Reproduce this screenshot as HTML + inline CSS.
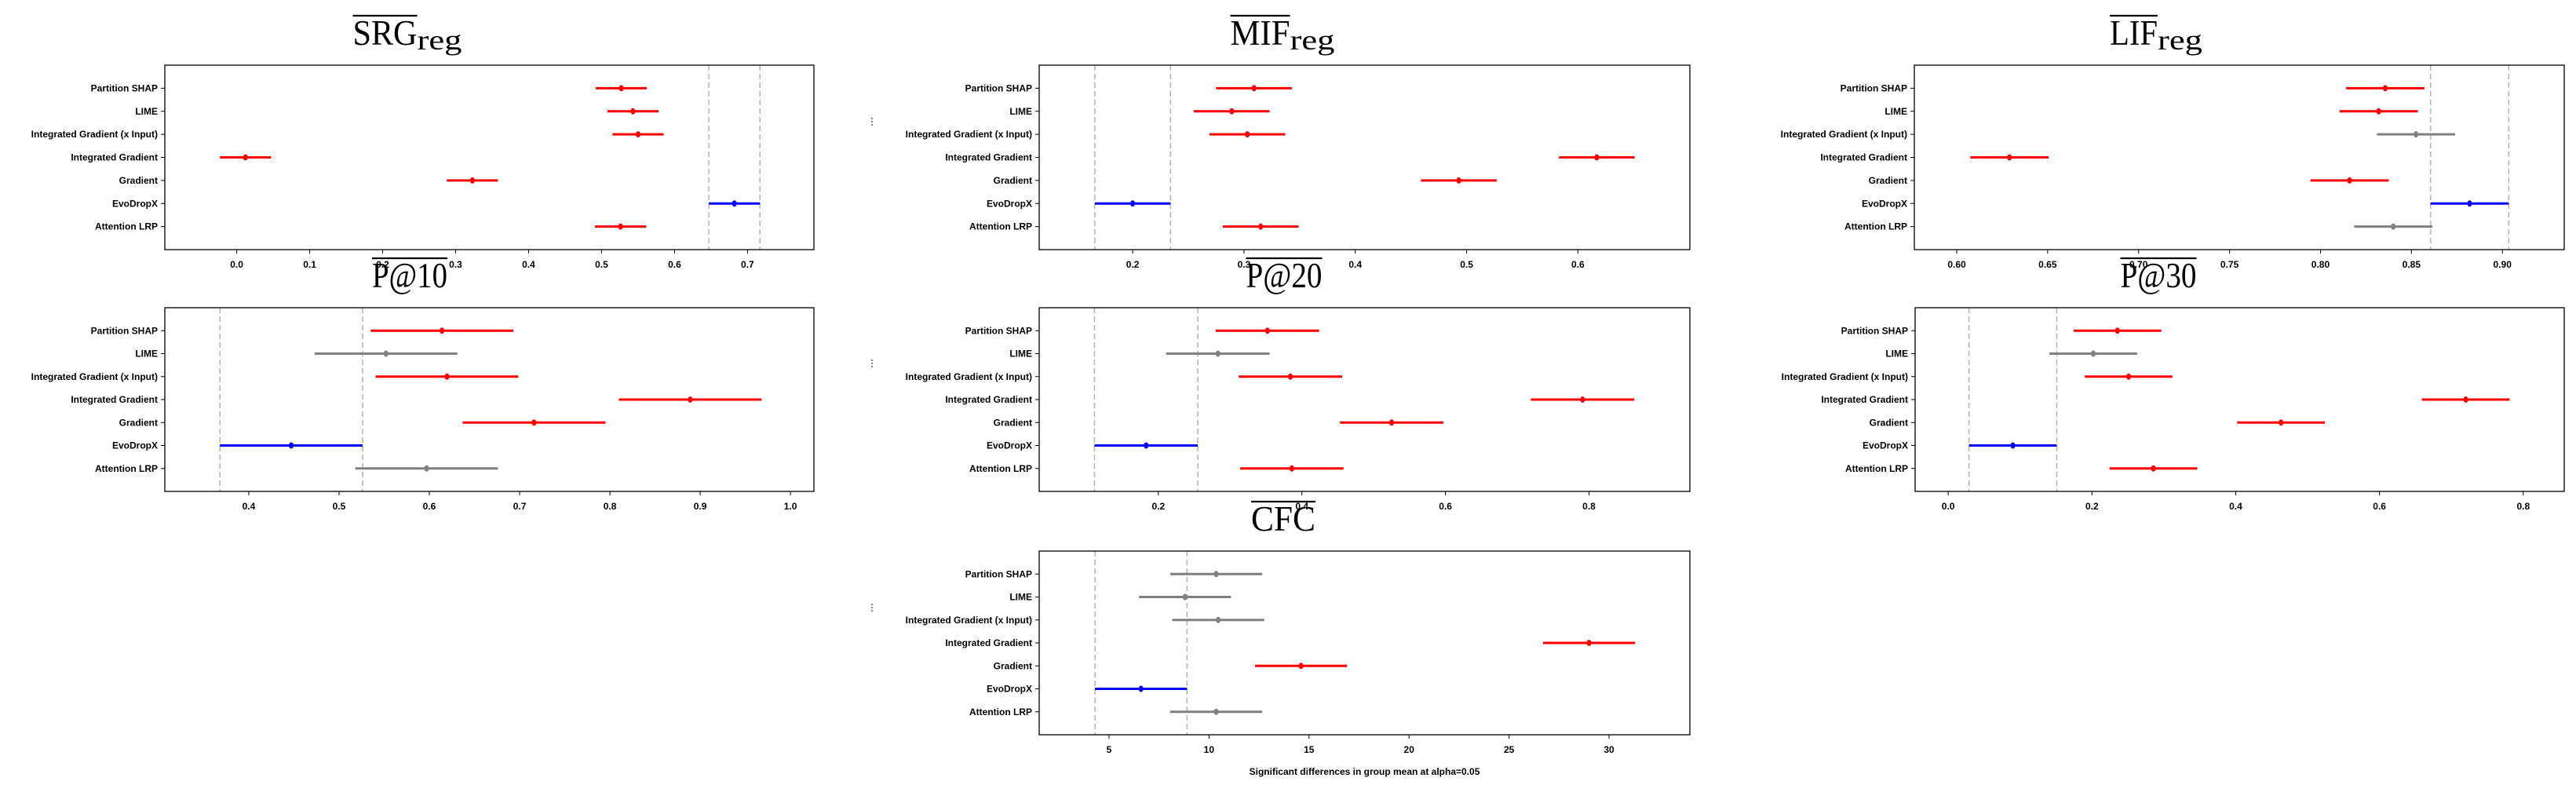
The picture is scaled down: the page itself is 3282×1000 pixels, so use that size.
<!DOCTYPE html>
<html><head><meta charset="utf-8"><style>
html,body{margin:0;padding:0;background:#fff;}
svg{display:block;}
</style></head>
<body>
<svg id="fig" width="3282" height="1000" viewBox="0 0 3282 1000" xmlns="http://www.w3.org/2000/svg"></svg>
<script>
const categories = ["Partition SHAP","LIME","Integrated Gradient (x Input)","Integrated Gradient","Gradient","EvoDropX","Attention LRP"];
const srgMeans = [0.527,0.543,0.550,0.012,0.323,0.682,0.526];
const srgHalf = 0.035;
const srgSig = ["r","r","r","r","r","b","r"];
const srgTicks = [0.0,0.1,0.2,0.3,0.4,0.5,0.6,0.7];
const mifMeans = [0.309,0.289,0.303,0.617,0.493,0.200,0.315];
const mifHalf = 0.034;
const mifSig = ["r","r","r","r","r","b","r"];
const mifTicks = [0.2,0.3,0.4,0.5,0.6];
const lifMeans = [0.8356,0.832,0.8525,0.629,0.816,0.882,0.840];
const lifHalf = 0.0215;
const lifSig = ["r","r","g","r","r","b","g"];
const lifTicks = [0.60,0.65,0.70,0.75,0.80,0.85,0.90];
const p10Means = [0.614,0.552,0.6195,0.889,0.716,0.447,0.597];
const p10Half = 0.079;
const p10Sig = ["r","g","r","r","r","b","g"];
const p10Ticks = [0.4,0.5,0.6,0.7,0.8,0.9,1.0];
const p20Means = [0.352,0.283,0.384,0.791,0.525,0.183,0.386];
const p20Half = 0.072;
const p20Sig = ["r","g","r","r","r","b","r"];
const p20Ticks = [0.2,0.4,0.6,0.8];
const p30Means = [0.2355,0.2018,0.251,0.720,0.463,0.090,0.2854];
const p30Half = 0.061;
const p30Sig = ["r","g","r","r","r","b","r"];
const p30Ticks = [0.0,0.2,0.4,0.6,0.8];
const cfcMeans = [10.36,8.8,10.46,29.0,14.6,6.6,10.36];
const cfcHalf = 2.3;
const cfcSig = ["g","g","g","r","r","b","g"];
const cfcTicks = [5,10,15,20,25,30];

const NS="http://www.w3.org/2000/svg";
const svg=document.getElementById('fig');
const COL={r:"#ff0000",g:"#808080",b:"#0000ff"};
function mk(tag,attrs,parent){const e=document.createElementNS(NS,tag);for(const k in attrs)e.setAttribute(k,attrs[k]);(parent||svg).appendChild(e);return e;}

const panels=[
 {key:"srg",main:"SRG",sub:"reg",mainW:82,subW:57,tc:519,box:[210,83,1037,318],xlim:[-0.0985,0.791],ticks:srgTicks,dec:1,means:srgMeans,half:srgHalf,sig:srgSig},
 {key:"mif",main:"MIF",sub:"reg",mainW:76,subW:57,tc:1634,box:[1324,83,2153,318],xlim:[0.116,0.7006],ticks:mifTicks,dec:1,means:mifMeans,half:mifHalf,sig:mifSig,mark:150},
 {key:"lif",main:"LIF",sub:"reg",mainW:61,subW:57,tc:2747,box:[2439,83,3267,318],xlim:[0.5767,0.934],ticks:lifTicks,dec:2,means:lifMeans,half:lifHalf,sig:lifSig},
 {key:"p10",main:"P@10",sub:"",mainW:96,subW:0,tc:522,box:[210,392,1037,626],xlim:[0.307,1.026],ticks:p10Ticks,dec:1,means:p10Means,half:p10Half,sig:p10Sig},
 {key:"p20",main:"P@20",sub:"",mainW:97,subW:0,tc:1636,box:[1324,392,2153,626],xlim:[0.034,0.9405],ticks:p20Ticks,dec:1,means:p20Means,half:p20Half,sig:p20Sig,mark:458},
 {key:"p30",main:"P@30",sub:"",mainW:97,subW:0,tc:2750,box:[2440,392,3267,626],xlim:[-0.046,0.857],ticks:p30Ticks,dec:1,means:p30Means,half:p30Half,sig:p30Sig},
 {key:"cfc",main:"CFC",sub:"",mainW:82,subW:0,tc:1635,box:[1324,702,2153,936],xlim:[1.51,34.04],ticks:cfcTicks,dec:0,means:cfcMeans,half:cfcHalf,sig:cfcSig,mark:769,xlabel:"Significant differences in group mean at alpha=0.05"}
];

panels.forEach(p=>{
 const [x0,y0,x1,y1]=p.box;
 const g=mk('g',{});
 
 
 const xs=v=>x0+(v-p.xlim[0])/(p.xlim[1]-p.xlim[0])*(x1-x0);
 const ys=i=>y0+(i+1)/(categories.length+1)*(y1-y0);
 // title
 const total=p.mainW+p.subW;
 const tx=p.tc-total/2;
 const by=y0-26;
 const t=mk('text',{x:tx,y:by,'font-family':'"Liberation Serif",serif','font-size':46,textLength:p.mainW,lengthAdjust:'spacingAndGlyphs',fill:'#000'},g);
 t.textContent=p.main;
 
 
 if(p.sub){
  const s=mk('text',{x:tx+p.mainW,y:by+6,'font-family':'"Liberation Serif",serif','font-size':36,textLength:p.subW,lengthAdjust:'spacingAndGlyphs',fill:'#000'},g);
  s.textContent=p.sub;
  
  
 }
 const ol=mk('line',{x1:tx,x2:tx+p.mainW,y1:by-37,y2:by-37,stroke:'#000','stroke-width':2.2},g);
 
 
 // dashed reference lines (EvoDropX CI bounds)
 const bi=p.sig.indexOf("b");
 [p.means[bi]-p.half,p.means[bi]+p.half].forEach(v=>{
  const dl=mk('line',{x1:xs(v),x2:xs(v),y1:y0,y2:y1,stroke:'#b4b4b4','stroke-width':1.5,'stroke-dasharray':'7,4'},g);
  
  
 });
 // frame
 const fr=mk('rect',{x:x0,y:y0,width:x1-x0,height:y1-y0,fill:'none',stroke:'#000','stroke-width':1.3},g);
 
 
 // y ticks & labels
 categories.forEach((c,i)=>{
  const y=ys(i);
  mk('line',{x1:x0-5,x2:x0,y1:y,y2:y,stroke:'#000','stroke-width':1},g);
  const lt=mk('text',{x:x0-9,y:y+4,'text-anchor':'end','font-family':'"Liberation Sans",sans-serif','font-size':12,'font-weight':'bold',fill:'#000'},g);
  lt.textContent=c;
  
  
 });
 // x ticks
 p.ticks.forEach(v=>{
  const x=xs(v);
  mk('line',{x1:x,x2:x,y1:y1,y2:y1+5,stroke:'#000','stroke-width':1},g);
  const tl=mk('text',{x:x,y:y1+23,'text-anchor':'middle','font-family':'"Liberation Sans",sans-serif','font-size':12,'font-weight':'bold',fill:'#000'},g);
  tl.textContent=v.toFixed(p.dec);
  
  
 });
 // error bars
 p.means.forEach((m,i)=>{
  const y=ys(i), c=COL[p.sig[i]];
  const el=mk('line',{x1:xs(m-p.half),x2:xs(m+p.half),y1:y,y2:y,stroke:c,'stroke-width':3},g);
  
  
  const pt=mk('ellipse',{cx:xs(m),cy:y,rx:3,ry:4,fill:c},g);
  
  
 });
 if(p.mark){
  const mkl=mk('line',{x1:1111,x2:1111,y1:p.mark,y2:p.mark+10,stroke:'#000','stroke-width':1,'stroke-dasharray':'2,2'},g);
  
  
 }
 if(p.xlabel){
  const xl=mk('text',{x:(x0+x1)/2,y:987,'text-anchor':'middle','font-family':'"Liberation Sans",sans-serif','font-size':12,'font-weight':'bold',fill:'#000'},g);
  xl.textContent=p.xlabel;
  
  
 }
});
</script>
</body></html>
